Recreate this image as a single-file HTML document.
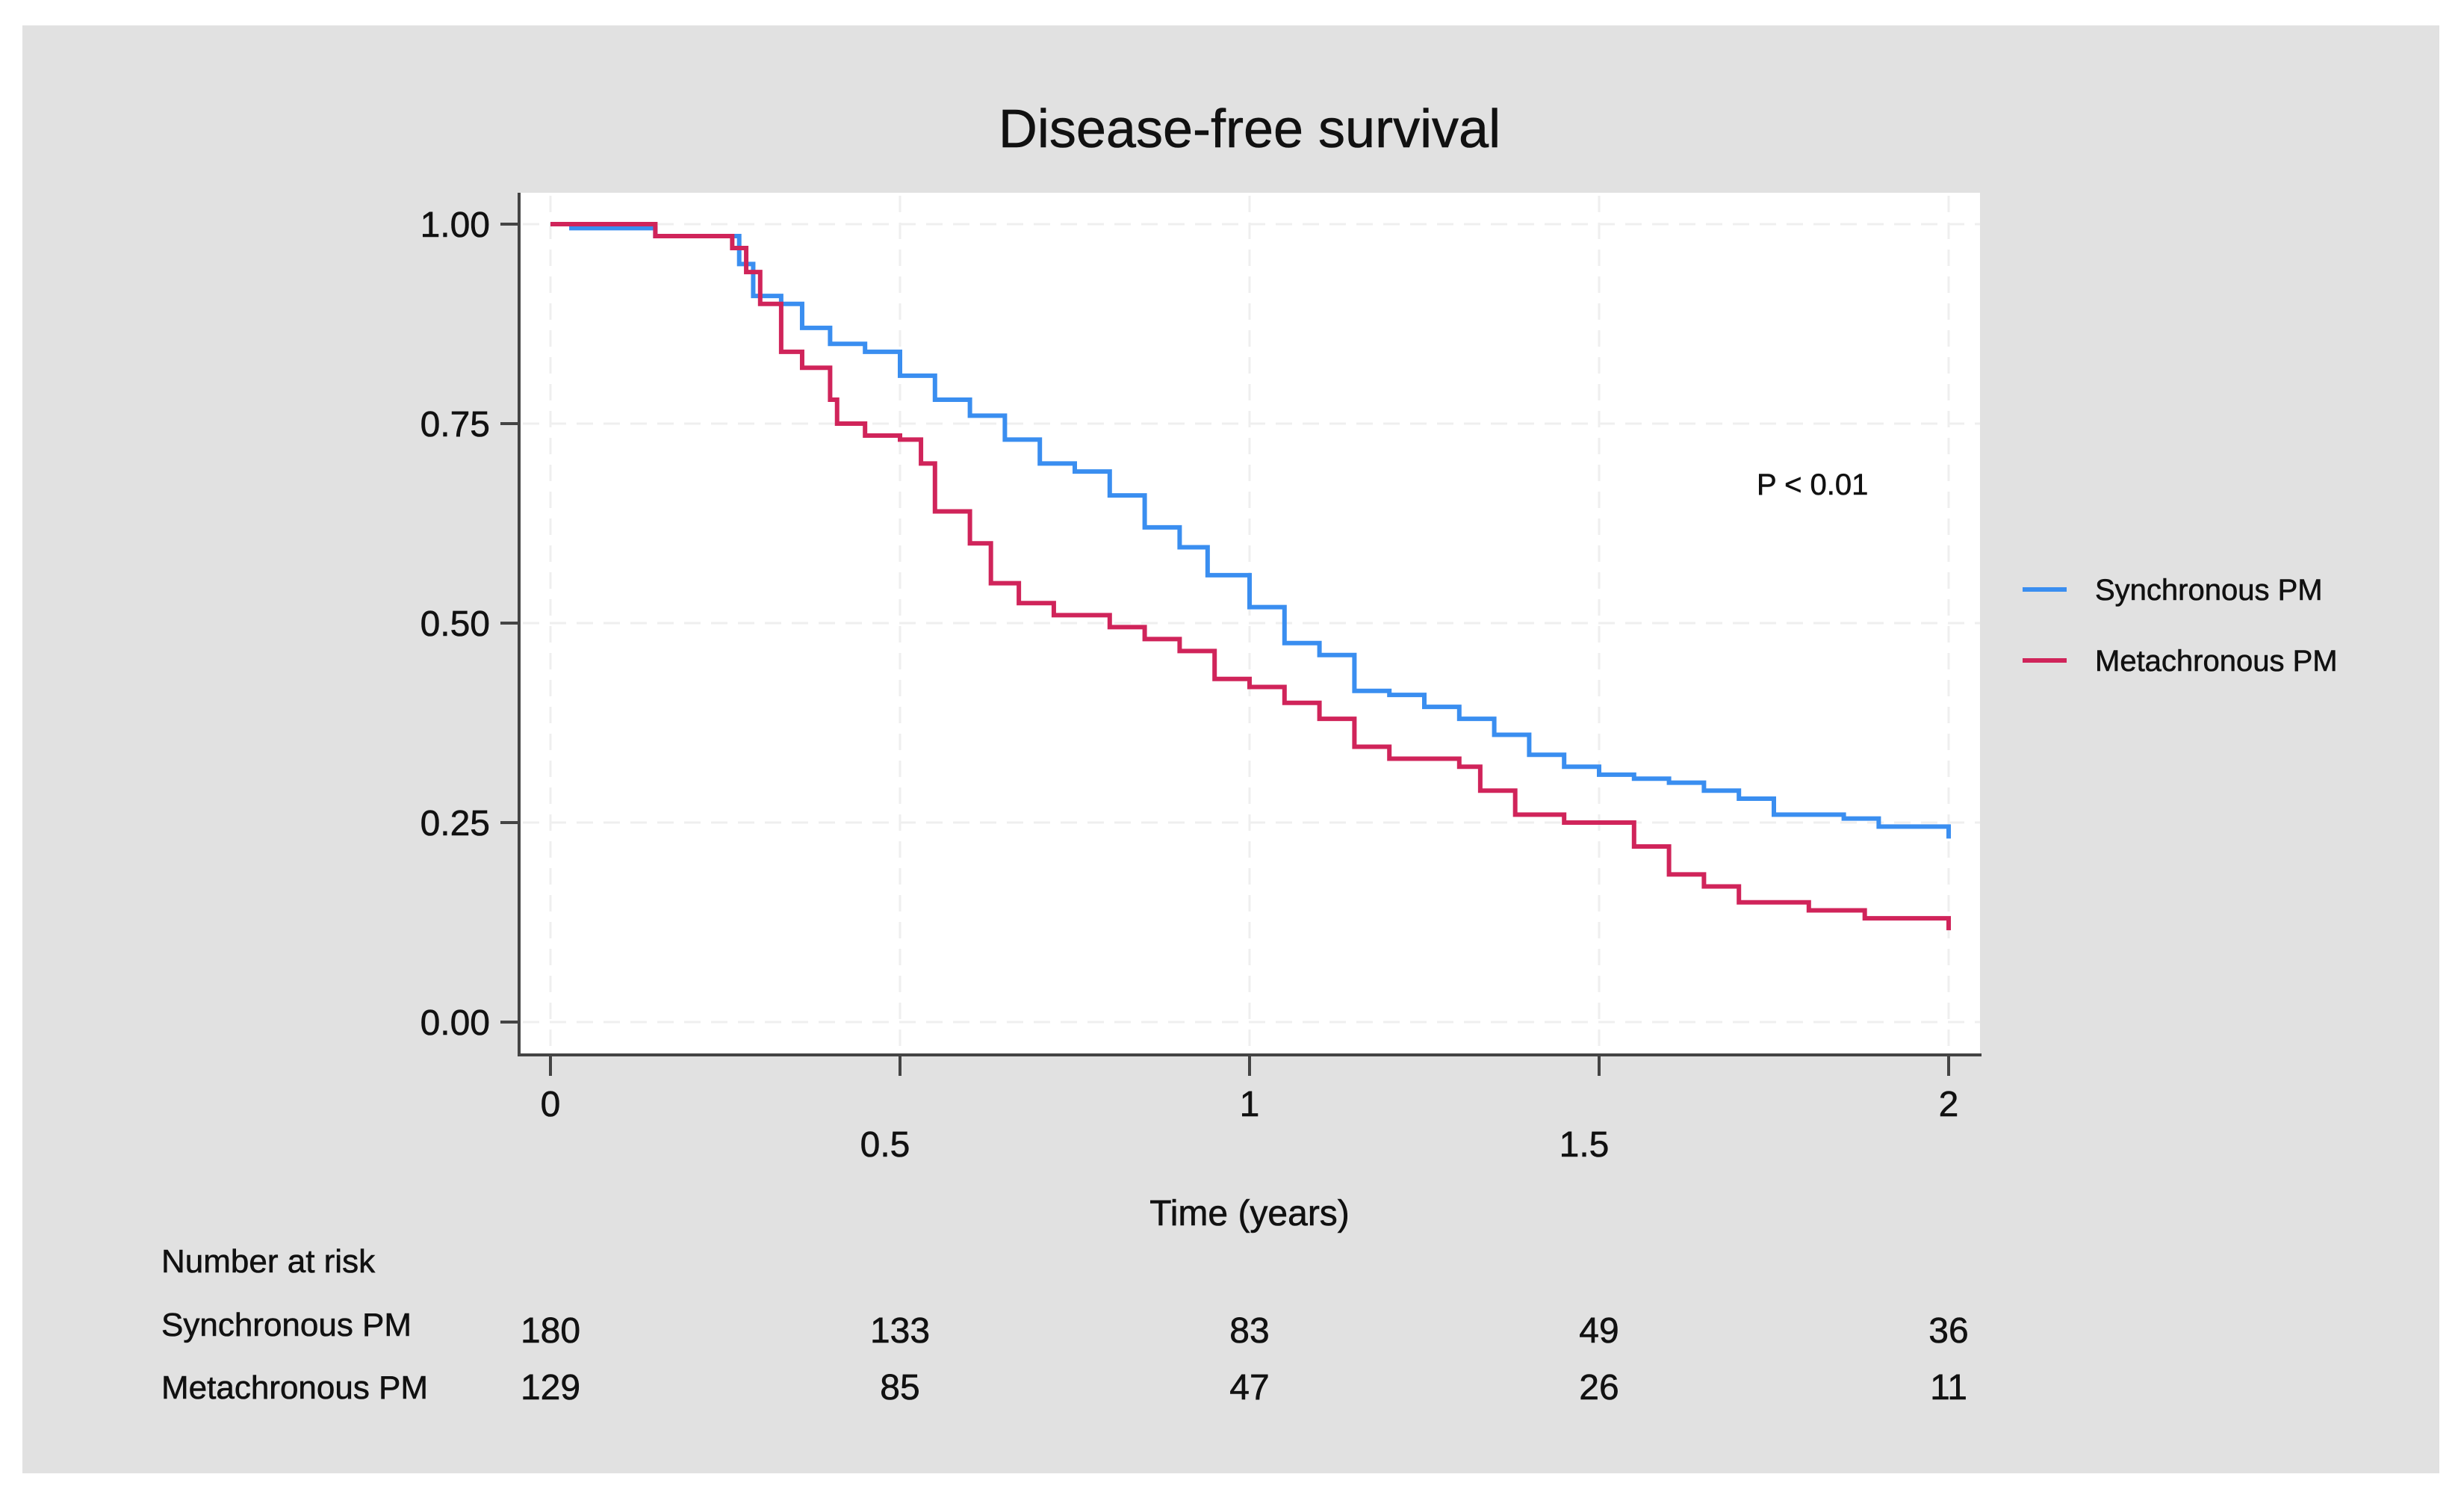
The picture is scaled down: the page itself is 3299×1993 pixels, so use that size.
<!DOCTYPE html>
<html><head><meta charset="utf-8"><style>
html,body{margin:0;padding:0;background:#fff;}
svg{display:block;font-family:"Liberation Sans",Arial,sans-serif;}
text{stroke:#111;stroke-width:0.6px;}
</style></head><body>
<svg id="chart" width="3299" height="1993" viewBox="0 0 3299 1993">
<rect x="30" y="34" width="3236" height="1938" fill="#e1e1e1"/>
<rect x="695" y="258" width="1956" height="1152" fill="#ffffff"/>
<text x="1673" y="197" text-anchor="middle" font-size="72" fill="#111">Disease-free survival</text>
<g id="grid"></g>
<g id="series"></g>
<line x1="695" y1="258" x2="695" y2="1412" stroke="#444" stroke-width="4"/>
<line x1="693" y1="1412" x2="2653" y2="1412" stroke="#444" stroke-width="4"/>
<g id="axes"></g>
<text x="1673" y="1640" text-anchor="middle" font-size="48" fill="#111">Time (years)</text>
<text x="2352" y="662" font-size="40" fill="#111">P &lt; 0.01</text>
<g>
<line x1="2708" y1="789" x2="2767" y2="789" stroke="#3a8ef0" stroke-width="6"/>
<text x="2805" y="803" font-size="40" fill="#111">Synchronous PM</text>
<line x1="2708" y1="884" x2="2767" y2="884" stroke="#d0245a" stroke-width="6"/>
<text x="2805" y="898" font-size="40" fill="#111">Metachronous PM</text>
</g>
<text x="216" y="1703" font-size="44" fill="#111">Number at risk</text>
<text x="216" y="1788" font-size="44" fill="#111">Synchronous PM</text>
<text x="216" y="1872" font-size="44" fill="#111">Metachronous PM</text>
<g id="risk"></g>
</svg>
<script>
const xTicks = [0, 0.5, 1, 1.5, 2];
const xTickLabels = ["0", "0.5", "1", "1.5", "2"];
const yTicks = [0, 0.25, 0.5, 0.75, 1];
const yTickLabels = ["0.00", "0.25", "0.50", "0.75", "1.00"];
const syncTimes = [0,0.03,0.15,0.27,0.29,0.33,0.36,0.40,0.45,0.50,0.55,0.60,0.65,0.70,0.75,0.80,0.85,0.90,0.94,1.00,1.05,1.10,1.15,1.20,1.25,1.30,1.35,1.40,1.45,1.50,1.55,1.60,1.65,1.70,1.75,1.80,1.85,1.90,1.95,2.00];
const syncSurv  = [1.0,0.995,0.985,0.95,0.91,0.90,0.87,0.85,0.84,0.81,0.78,0.76,0.73,0.70,0.69,0.66,0.62,0.595,0.56,0.52,0.475,0.46,0.415,0.41,0.395,0.38,0.36,0.335,0.32,0.31,0.305,0.30,0.29,0.28,0.26,0.26,0.255,0.245,0.245,0.23];
const metaTimes = [0,0.13,0.15,0.26,0.28,0.30,0.33,0.36,0.40,0.41,0.45,0.50,0.53,0.55,0.60,0.63,0.67,0.72,0.80,0.85,0.90,0.95,1.00,1.05,1.10,1.15,1.20,1.30,1.33,1.38,1.45,1.50,1.55,1.60,1.65,1.70,1.80,1.88,1.98,2.00];
const metaSurv  = [1.0,1.0,0.985,0.97,0.94,0.90,0.84,0.82,0.78,0.75,0.735,0.73,0.70,0.64,0.60,0.55,0.525,0.51,0.495,0.48,0.465,0.43,0.42,0.40,0.38,0.345,0.33,0.32,0.29,0.26,0.25,0.25,0.22,0.185,0.17,0.15,0.14,0.13,0.13,0.115];
const riskSync = [180, 133, 83, 49, 36];
const riskMeta = [129, 85, 47, 26, 11];

const NS = "http://www.w3.org/2000/svg";
const X = t => 737 + t * 936;
const Y = s => 1368 - s * 1068;
function mk(tag, attrs, parent) {
  const e = document.createElementNS(NS, tag);
  for (const k in attrs) e.setAttribute(k, attrs[k]);
  parent.appendChild(e);
  return e;
}
const grid = document.getElementById("grid");
const axes = document.getElementById("axes");
yTicks.forEach((v, i) => {
  const g = mk("line", {x1: 700, x2: 2651, y1: Y(v), y2: Y(v), stroke: "#efefef", "stroke-width": 3, "stroke-dasharray": "22 14"}, grid);
  
  
  const t = mk("line", {x1: 670, x2: 695, y1: Y(v), y2: Y(v), stroke: "#444", "stroke-width": 4}, axes);
  
  
  const l = mk("text", {x: 656, y: Y(v) + 17, "text-anchor": "end", "font-size": 48, fill: "#111"}, axes);
  l.textContent = yTickLabels[i];
  
  
});
xTicks.forEach((v, i) => {
  const g = mk("line", {x1: X(v), x2: X(v), y1: 262, y2: 1408, stroke: "#efefef", "stroke-width": 3, "stroke-dasharray": "22 14"}, grid);
  
  
  const t = mk("line", {x1: X(v), x2: X(v), y1: 1412, y2: 1440, stroke: "#444", "stroke-width": 4}, axes);
  
  
  const low = i % 2 === 1;
  const l = mk("text", {x: X(v) - (low ? 20 : 0), y: low ? 1548 : 1494, "text-anchor": "middle", "font-size": 48, fill: "#111"}, axes);
  l.textContent = xTickLabels[i];
  
  
});
function stepPath(ts, ss) {
  let d = "M" + X(ts[0]) + "," + Y(ss[0]);
  for (let i = 1; i < ts.length; i++) {
    d += " H" + X(ts[i]) + " V" + Y(ss[i]);
  }
  return d;
}
const ser = document.getElementById("series");
const pb = mk("path", {d: stepPath(syncTimes, syncSurv), fill: "none", stroke: "#3a8ef0", "stroke-width": 6}, ser);


const pr = mk("path", {d: stepPath(metaTimes, metaSurv), fill: "none", stroke: "#d0245a", "stroke-width": 6}, ser);


const risk = document.getElementById("risk");
xTicks.forEach((v, i) => {
  const a = mk("text", {x: X(v), y: 1797, "text-anchor": "middle", "font-size": 48, fill: "#111"}, risk);
  a.textContent = riskSync[i];
  
  
  const b = mk("text", {x: X(v), y: 1873, "text-anchor": "middle", "font-size": 48, fill: "#111"}, risk);
  b.textContent = riskMeta[i];
  
  
});
</script>
</body></html>
